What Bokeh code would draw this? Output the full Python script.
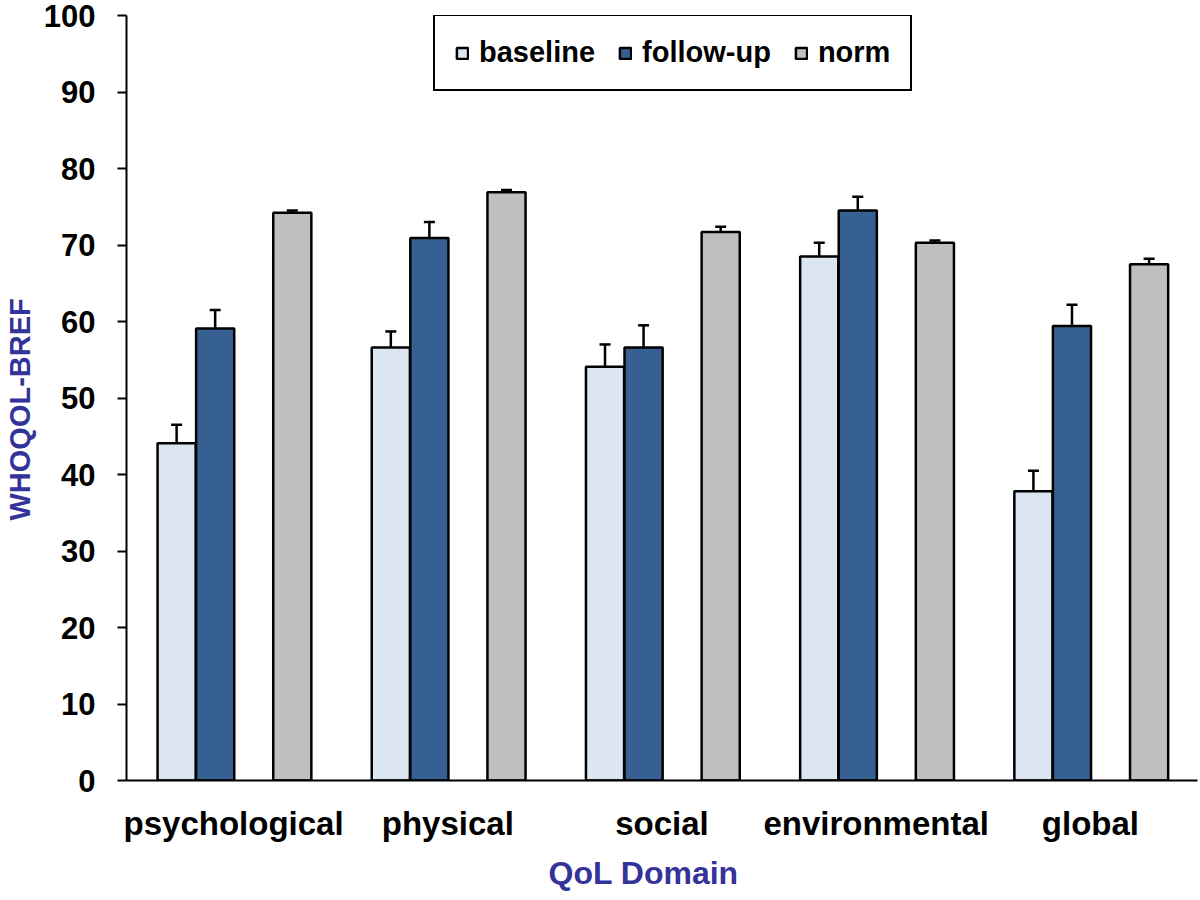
from bokeh.plotting import figure
from bokeh.models import (Range1d, FixedTicker, ColumnDataSource, Whisker, TeeHead,
                          Legend, LegendItem, Title)
from bokeh.embed import file_html
from bokeh.resources import INLINE

# ---- data ----
categories = ["psychological", "physical", "social", "environmental", "global"]
series_names = ["baseline", "follow-up", "norm"]
baseline = [44.1, 56.6, 54.1, 68.5, 37.8]
baseline_err = [2.4, 2.1, 2.9, 1.8, 2.7]
followup = [59.1, 70.9, 56.6, 74.5, 59.4]
followup_err = [2.4, 2.1, 2.9, 1.8, 2.8]
norm = [74.2, 76.9, 71.7, 70.3, 67.5]
norm_err = [0.3, 0.3, 0.7, 0.3, 0.7]
y_ticks = [0, 10, 20, 30, 40, 50, 60, 70, 80, 90, 100]
x_title = "QoL Domain"
y_title = "WHOQOL-BREF"

# ---- style ----
colors = ["#DCE6F2", "#376092", "#BFBFBF"]
offsets = [-0.266, -0.086, 0.274]
bar_w = 0.178
FONT = "Liberation Sans"
TITLE_COLOR = "#333399"

p = figure(width=1198, height=898, output_backend="svg", toolbar_location=None,
           x_range=Range1d(0, len(categories)), y_range=Range1d(0, 100),
           min_border_left=124, min_border_right=1, min_border_top=15, min_border_bottom=118)
p.outline_line_color = None
p.xgrid.visible = False
p.ygrid.visible = False
p.background_fill_color = "white"
p.border_fill_color = "white"

centers = [i + 0.5 for i in range(len(categories))]
renderers = []
for vals, errs, col, off in zip([baseline, followup, norm],
                                [baseline_err, followup_err, norm_err], colors, offsets):
    xs = [c + off for c in centers]
    src = ColumnDataSource(dict(x=xs, top=vals, upper=[v + e for v, e in zip(vals, errs)]))
    r = p.vbar(x="x", top="top", bottom=0, width=bar_w, source=src,
               fill_color=col, line_color="black", line_width=2.5)
    renderers.append(r)
    w = Whisker(base="x", lower="top", upper="upper", source=src, dimension="height",
                line_color="black", line_width=2.5, lower_head=None,
                upper_head=TeeHead(size=11, line_color="black", line_width=2.5))
    p.add_layout(w)

# ---- axes ----
p.yaxis.ticker = FixedTicker(ticks=y_ticks)
p.yaxis.minor_tick_line_color = None
p.yaxis.major_tick_out = 9
p.yaxis.major_tick_in = 0
p.yaxis.major_tick_line_width = 2
p.yaxis.axis_line_width = 2
p.yaxis.major_label_text_font = FONT
p.yaxis.major_label_text_font_style = "bold"
p.yaxis.major_label_text_font_size = "31px"
p.yaxis.major_label_text_color = "black"
p.yaxis.major_label_standoff = 22

p.xaxis.ticker = FixedTicker(ticks=centers)
p.xaxis.major_label_overrides = {c: name for c, name in zip(centers, categories)}
p.xaxis.minor_tick_line_color = None
p.xaxis.major_tick_out = 0
p.xaxis.major_tick_in = 0
p.xaxis.axis_line_width = 2
p.xaxis.major_label_text_font = FONT
p.xaxis.major_label_text_font_style = "bold"
p.xaxis.major_label_text_font_size = "33px"
p.xaxis.major_label_text_color = "black"
p.xaxis.major_label_standoff = 24

# ---- axis titles ----
p.add_layout(Title(text=x_title, align="left", offset=422, text_font=FONT,
                   text_font_style="bold", text_font_size="32px", text_color=TITLE_COLOR,
                   standoff=16, vertical_align="bottom"), "below")
p.add_layout(Title(text=y_title, align="left", offset=260, text_font=FONT,
                   text_font_style="bold", text_font_size="29px", text_color=TITLE_COLOR,
                   standoff=6, vertical_align="top"), "left")

# ---- legend ----
legend = Legend(items=[LegendItem(label=n, renderers=[r]) for n, r in zip(series_names, renderers)],
                orientation="horizontal", location=(307, 689),
                label_text_font=FONT, label_text_font_style="bold",
                label_text_font_size="29px", label_text_color="black",
                glyph_width=14, glyph_height=14, label_standoff=10, spacing=23,
                padding=20, margin=0, border_line_color="black", border_line_width=2,
                border_line_alpha=1.0,
                background_fill_color="white", background_fill_alpha=1.0)
p.add_layout(legend, "center")

open("out.html", "w").write(file_html(p, INLINE))
